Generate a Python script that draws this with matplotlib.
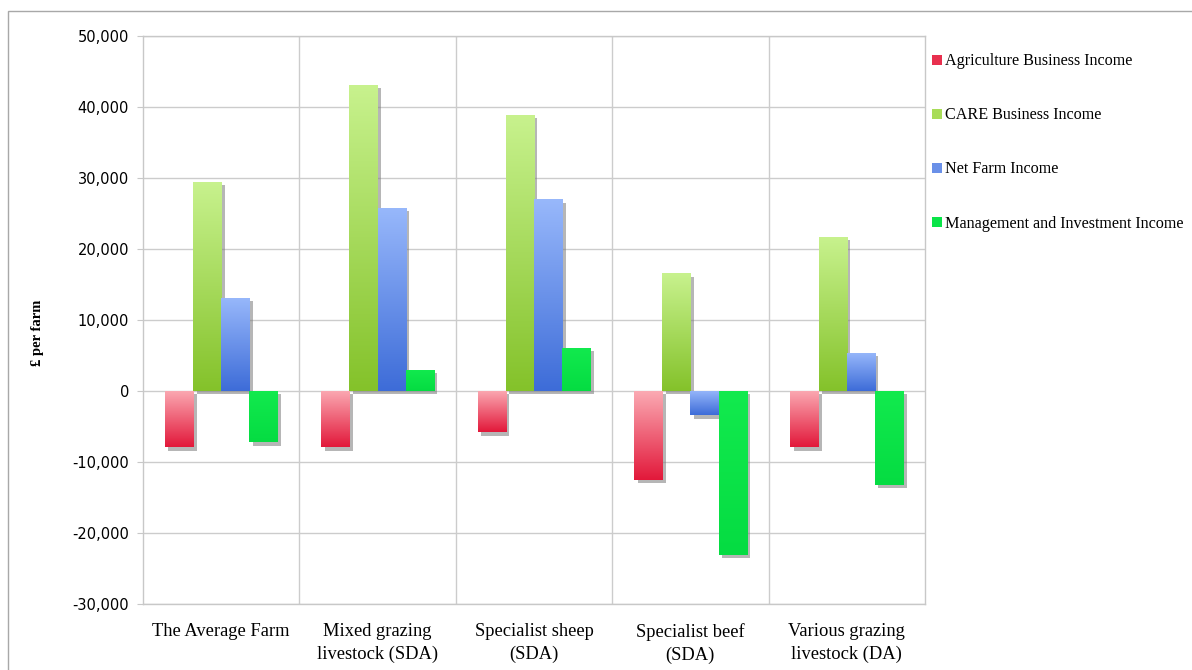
import numpy as np
import matplotlib.pyplot as plt
import matplotlib.patheffects as pe
from matplotlib.colors import LinearSegmentedColormap
from matplotlib.patches import Rectangle, Patch

categories = ["The Average Farm", "Mixed grazing\nlivestock (SDA)", "Specialist sheep\n(SDA)",
              "Specialist beef\n(SDA)", "Various grazing\nlivestock (DA)"]
series_names = ["Agriculture Business Income", "CARE Business Income",
                "Net Farm Income", "Management and Investment Income"]
agri = [-7900, -7900, -5800, -12500, -7900]
care = [29500, 43100, 38900, 16600, 21700]
nfi = [13100, 25800, 27000, -3400, 5400]
mii = [-7200, 3000, 6100, -23100, -13200]
yticks = list(range(-30000, 50001, 10000))

# light (top) -> dark (bottom)
grads = [("#fbaab3", "#e2183a"), ("#c8f28e", "#84c22a"),
         ("#98b8fb", "#3d6cd8"), ("#12ea4e", "#05dc42")]
legend_cols = ["#e8304e", "#a8dc58", "#6a90e8", "#0ae448"]

serif = "Liberation Serif"

fig = plt.figure(figsize=(11.92, 6.70), dpi=100)
ax = fig.add_axes([143 / 1192, 1 - 604 / 670, (925 - 143) / 1192, (604 - 36) / 670])

# outer frame
fig.patches.append(Rectangle((8 / 1192, -0.1), 1.2, 1.1 - 11 / 670, transform=fig.transFigure,
                             fill=False, edgecolor="#a8a8a8", linewidth=1.0))

x = np.arange(len(categories))
w = 0.18
data = [agri, care, nfi, mii]
grad = np.linspace(0, 1, 256).reshape(-1, 1)

for i, vals in enumerate(data):
    cmap = LinearSegmentedColormap.from_list(f"g{i}", list(grads[i]))
    bars = ax.bar(x + (i - 1.5) * w, vals, w, color=grads[i][1], zorder=2, linewidth=0)
    for rect in bars:
        rect.set_path_effects([pe.SimplePatchShadow(offset=(2.5, -2.5), shadow_rgbFace="#7a7a7a",
                                                    alpha=0.55), pe.Normal()])
        x0 = rect.get_x()
        y0 = rect.get_y()
        h = rect.get_height()
        im = ax.imshow(grad, extent=[x0, x0 + rect.get_width(), min(y0, y0 + h), max(y0, y0 + h)],
                       aspect="auto", origin="upper", cmap=cmap, zorder=3, interpolation="bilinear")
        im.set_clip_path(rect)

ax.set_xlim(-0.5, len(categories) - 0.5)
ax.set_ylim(-30000, 50000)
ax.set_yticks(yticks)
ax.set_yticklabels([f"{v:,}" for v in yticks], fontsize=10.5, family="DejaVu Sans")
ax.set_xticks(x)
ax.set_xticklabels(categories, fontsize=13.3, family=serif, linespacing=1.4, va="top")
ax.tick_params(axis="x", length=0, pad=14)
ax.tick_params(axis="y", length=4, color="#c8c8c8", pad=6)
ax.grid(axis="y", color="#cccccc", linewidth=1.0, zorder=0)
for b in np.arange(0.5, len(categories) - 0.5, 1.0):
    ax.axvline(b, color="#cccccc", linewidth=1.0, zorder=0)
ax.set_axisbelow(True)
for s in ax.spines.values():
    s.set_color("#c8c8c8")
    s.set_linewidth(1.0)

ax.set_ylabel("£ per farm", fontsize=10.5, family=serif, fontweight="bold")
ax.yaxis.set_label_coords(-0.127, 0.477)

handles = [Patch(facecolor=c, edgecolor="none") for c in legend_cols]
fig.legend(handles, series_names, loc="upper left", bbox_to_anchor=(926 / 1192, 1 - 47 / 670),
           frameon=False, prop={"family": serif, "size": 11.6}, handlelength=0.6, handleheight=0.6,
           handletextpad=0.2, labelspacing=2.36, borderaxespad=0)

fig.savefig("out.png", dpi=100)
